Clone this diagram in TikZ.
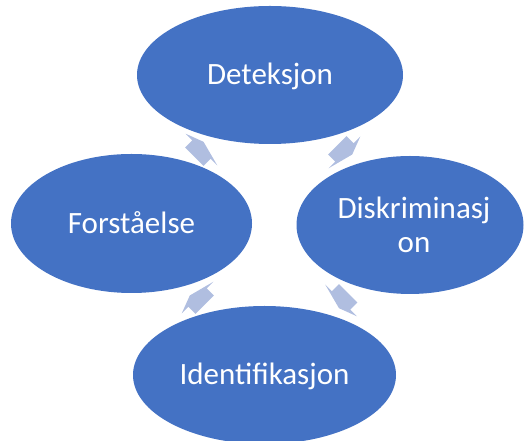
\documentclass[tikz,border=0pt]{standalone}
\usepackage{fontspec}
\setmainfont{Carlito}
\usetikzlibrary{shapes.geometric}
\definecolor{blueE}{HTML}{4472C4}
\definecolor{arrowc}{RGB}{176,190,224}
\begin{document}
\begin{tikzpicture}[x=1pt,y=1pt,
  cyc/.style={ellipse, fill=blueE, draw=none, inner sep=0pt, text=white,
    font=\fontsize{31}{34.5}\selectfont, align=center},
  oneline/.style={text height=20pt, text depth=0pt},
  blockarrow/.style={fill=arrowc, draw=none}]
\useasboundingbox (0,0) rectangle (524,441);
\clip (0,0) rectangle (524,441);
% ellipses
\node[cyc, oneline, minimum width=266pt, minimum height=138pt] (det) at (270,366) {Deteksjon};
\node[cyc, minimum width=227pt, minimum height=138pt] (dis) at (410,216) {};
\node[text=white, font=\fontsize{31}{34.5}\selectfont, align=center, inner sep=0pt] (distext) at (414,216) {Diskriminasj\\on};
\node[cyc, oneline, minimum width=263pt, minimum height=138pt] (ide) at (264.5,66) {Identifikasjon};
\node[cyc, oneline, minimum width=241pt, minimum height=139pt] (for) at (131.5,217.5) {Forståelse};
% block arrows (clockwise cycle)
\foreach \cx/\cy/\ang in {200/290/45, 343/290/-45, 342.5/142/-135, 199/142/135}{
  \fill[blockarrow, shift={(\cx,\cy)}, rotate=\ang]
    (-8,-13) -- (2,-13) -- (2,-22.5) -- (9,4) -- (2,22.5) -- (2,13) -- (-8,13) -- cycle;
}
\end{tikzpicture}
\end{document}
